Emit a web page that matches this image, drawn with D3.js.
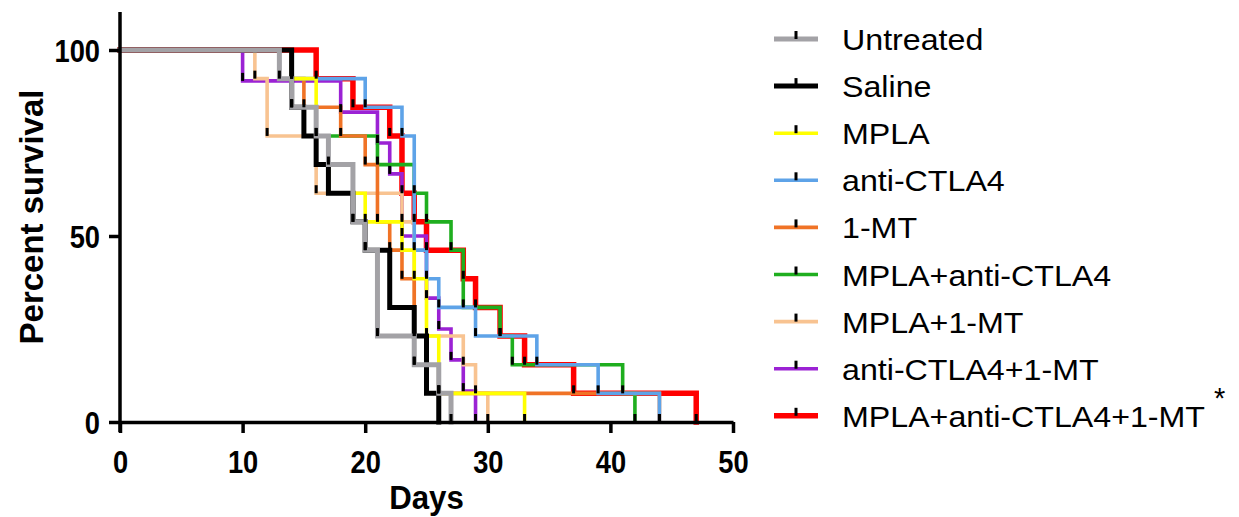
<!DOCTYPE html>
<html>
<head>
<meta charset="utf-8">
<script src="https://cdn.jsdelivr.net/npm/d3@7"></script>
<style>
  html, body { margin: 0; padding: 0; background: #fff; }
  svg { display: block; }
  text { font-family: "Liberation Sans", Arial, sans-serif; }
</style>
</head>
<body>
<svg id="chart" width="1239" height="517"></svg>
<script>
// Kaplan-Meier survival by treatment group (percent surviving after each event day)
const groupNames = ["Untreated", "Saline", "MPLA", "anti-CTLA4", "1-MT",
  "MPLA+anti-CTLA4", "MPLA+1-MT", "anti-CTLA4+1-MT", "MPLA+anti-CTLA4+1-MT"];
const groupColors = ["#a3a2a6", "#000000", "#ffff00", "#5ea3e8", "#f07326",
  "#1fae1f", "#f8c391", "#9b22d4", "#ff0000"];

const untreatedDays = [13, 14, 16, 17, 19, 20, 21, 24, 26, 27];
const untreatedPct  = [92.3, 84.6, 76.9, 69.2, 53.8, 46.2, 23.1, 15.4, 7.7, 0];

const salineDays = [14, 15, 16, 17, 19, 20, 22, 24, 25, 26];
const salinePct  = [84.6, 76.9, 69.2, 61.5, 53.8, 46.2, 30.8, 23.1, 7.7, 0];

const mplaDays = [14, 16, 17, 20, 23, 24, 25, 26, 33];
const mplaPct  = [92.3, 69.2, 61.5, 53.8, 46.2, 38.5, 23.1, 7.7, 0];

const antiCtla4Days = [14, 20, 23, 24, 25, 26, 29, 34, 39, 44];
const antiCtla4Pct  = [92.3, 84.6, 76.9, 46.2, 38.5, 30.8, 23.1, 15.4, 7.7, 0];

const mtDays = [14, 15, 18, 20, 21, 22, 23, 24, 26, 44];
const mtPct  = [92.3, 84.6, 76.9, 69.2, 53.8, 46.2, 38.5, 15.4, 7.7, 0];

const mplaCtla4Days = [14, 16, 21, 24, 25, 27, 28, 31, 32, 41, 42];
const mplaCtla4Pct  = [84.6, 76.9, 69.2, 61.5, 53.8, 46.2, 30.8, 23.1, 15.4, 7.7, 0];

const mplaMtDays = [11, 12, 16, 23, 24, 28, 29, 30];
const mplaMtPct  = [92.3, 76.9, 61.5, 53.8, 23.1, 15.4, 7.7, 0];

const ctla4MtDays = [10, 18, 21, 22, 23, 25, 26, 27, 28, 29];
const ctla4MtPct  = [91.7, 83.3, 75.0, 66.7, 50.0, 33.3, 25.0, 16.7, 8.3, 0];

const tripleDays = [16, 19, 22, 23, 24, 25, 28, 29, 31, 33, 37, 47];
const triplePct  = [92.3, 84.6, 76.9, 61.5, 53.8, 46.2, 38.5, 30.8, 23.1, 15.4, 7.7, 0];

const xTicks = [0, 10, 20, 30, 40, 50];
const yTicks = [0, 50, 100];

const seriesDays = [untreatedDays, salineDays, mplaDays, antiCtla4Days, mtDays,
  mplaCtla4Days, mplaMtDays, ctla4MtDays, tripleDays];
const seriesPct = [untreatedPct, salinePct, mplaPct, antiCtla4Pct, mtPct,
  mplaCtla4Pct, mplaMtPct, ctla4MtPct, triplePct];
const lineWidths = [5, 5, 3.6, 3.6, 3.6, 3.6, 3.6, 3.6, 5.5];

const svg = d3.select("#chart");
const x = d3.scaleLinear().domain([0, 50]).range([120, 733]);
const y = d3.scaleLinear().domain([0, 100]).range([422, 50]);

// step paths, last group at the bottom
const curves = svg.append("g").attr("fill", "none");
for (let i = groupNames.length - 1; i >= 0; i--) {
  const pts = [[0, 100]];
  seriesDays[i].forEach((d, k) => pts.push([d, seriesPct[i][k]]));
  const line = d3.line().x(p => x(p[0])).y(p => y(p[1])).curve(d3.curveStepAfter);
  curves.append("path")
    .attr("d", line(pts))
    .attr("stroke", groupColors[i])
    .attr("stroke-width", lineWidths[i])
    .attr("stroke-linejoin", "miter")
    .attr("stroke-linecap", "square");
}

// point markers: short black ticks at each event
const marks = svg.append("g").attr("fill", "#000");
seriesDays.forEach((days, i) => {
  days.forEach((d, k) => {
    const px = x(d), py = y(seriesPct[i][k]);
    marks.append("rect")
      .attr("x", px - 1.5).attr("y", py - 8)
      .attr("width", 3).attr("height", 8);
  });
});

// axes
const axisG = svg.append("g");
const xAxis = d3.axisBottom(x).tickValues(xTicks).tickSize(11).tickSizeOuter(0);
const gx = axisG.append("g").attr("transform", "translate(0,422)").call(xAxis);
const yAxis = d3.axisLeft(y).tickValues(yTicks).tickSize(11).tickSizeOuter(0);
const gy = axisG.append("g").attr("transform", "translate(120,0)").call(yAxis);
gy.select(".domain").attr("d", "M0,12V432");
[gx, gy].forEach(g => {
  g.select(".domain").attr("stroke", "#000").attr("stroke-width", 3.5);
  g.selectAll(".tick line").attr("stroke", "#000").attr("stroke-width", 3.5);
  g.selectAll(".tick text")
    .attr("fill", "#000")
    .attr("x", 0).attr("y", 0).attr("dy", null)
    .style("font-family", "'Liberation Sans', Arial, sans-serif")
    .style("font-size", "31px")
    .style("font-weight", "bold");
});
gx.selectAll(".tick text")
  .attr("text-anchor", "middle")
  .attr("transform", "translate(0,51) scale(0.88,1)");
gy.selectAll(".tick text")
  .attr("text-anchor", "end")
  .attr("transform", "translate(-20,11) scale(0.88,1)");

svg.append("text")
  .attr("transform", `translate(${x(25)},509) scale(0.92,1)`)
  .attr("text-anchor", "middle")
  .style("font-size", "34px").style("font-weight", "bold")
  .text("Days");

svg.append("text")
  .attr("transform", "translate(43,217) rotate(-90)")
  .attr("text-anchor", "middle")
  .style("font-size", "33px").style("font-weight", "bold")
  .text("Percent survival");

// legend
const legend = svg.append("g");
groupNames.forEach((name, i) => {
  const cy = 39 + i * 47.1;
  legend.append("line")
    .attr("x1", 774).attr("x2", 818).attr("y1", cy).attr("y2", cy)
    .attr("stroke", groupColors[i]).attr("stroke-width", lineWidths[i]);
  legend.append("rect")
    .attr("x", 794.5).attr("y", cy - 8).attr("width", 3).attr("height", 8)
    .attr("fill", "#000");
  legend.append("text")
    .attr("transform", `translate(842,${cy + 11}) scale(1.11,1)`)
    .style("font-size", "29px")
    .attr("fill", "#000")
    .text(name);
});
svg.append("text")
  .attr("x", 1214).attr("y", 408)
  .style("font-size", "29px")
  .text("*");
</script>
</body>
</html>
